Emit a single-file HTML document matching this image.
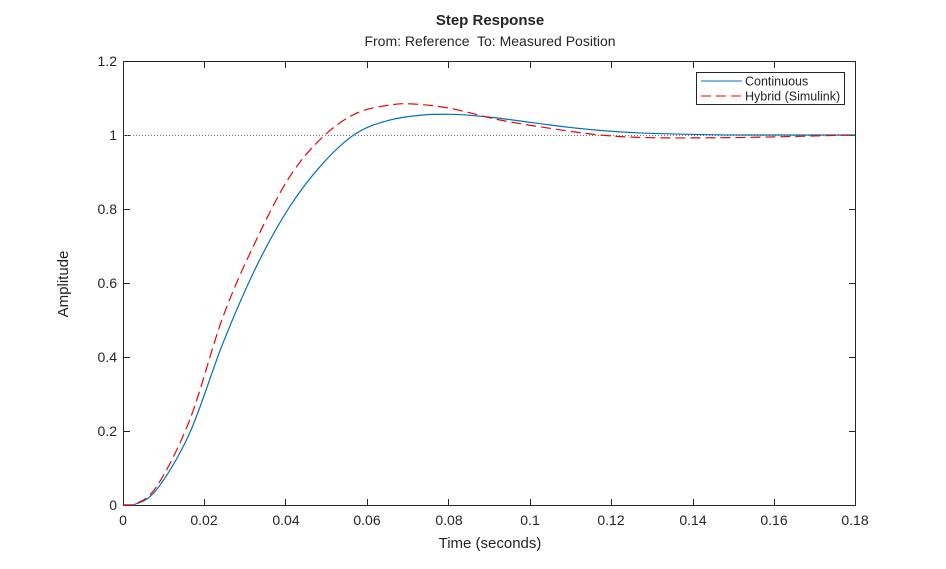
<!DOCTYPE html>
<html><head><style>body{margin:0;background:#fff}svg{display:block;font-family:"Liberation Sans",sans-serif}</style></head>
<body>
<svg width="946" height="569" viewBox="0 0 946 569" xmlns="http://www.w3.org/2000/svg">
<rect width="946" height="569" fill="#fff"/>
<text x="490" y="25" text-anchor="middle" font-size="15" font-weight="bold" fill="#262626">Step Response</text>
<text x="490" y="46" text-anchor="middle" font-size="14" fill="#262626" xml:space="preserve">From: Reference  To: Measured Position</text>
<g stroke="#262626" stroke-width="1">
<rect x="123.5" y="61.5" width="732" height="444" fill="none"/>
<path d="M204.5 505v-6M285.5 505v-6M367.5 505v-6M448.5 505v-6M530.5 505v-6M611.5 505v-6M693.5 505v-6M774.5 505v-6M204.5 62v6M285.5 62v6M367.5 62v6M448.5 62v6M530.5 62v6M611.5 62v6M693.5 62v6M774.5 62v6"/>
<path d="M124 431.5h6M124 357.5h6M124 283.5h6M124 209.5h6M124 135.5h6M855 431.5h-6M855 357.5h-6M855 283.5h-6M855 209.5h-6M855 135.5h-6"/>
</g>
<line x1="124" y1="135.5" x2="855" y2="135.5" stroke="#777" stroke-dasharray="1,2"/>
<g font-size="14" fill="#262626" text-anchor="middle">
<text x="123" y="525">0</text><text x="204" y="525">0.02</text><text x="286" y="525">0.04</text><text x="367" y="525">0.06</text><text x="449" y="525">0.08</text><text x="530" y="525">0.1</text><text x="611" y="525">0.12</text><text x="693" y="525">0.14</text><text x="774" y="525">0.16</text><text x="855" y="525">0.18</text>
</g>
<g font-size="14" fill="#262626" text-anchor="end">
<text x="117" y="510">0</text><text x="117" y="436">0.2</text><text x="117" y="362">0.4</text><text x="117" y="288">0.6</text><text x="117" y="214">0.8</text><text x="117" y="140">1</text><text x="117" y="66">1.2</text>
</g>
<text x="490" y="548" text-anchor="middle" font-size="15" fill="#262626">Time (seconds)</text>
<text transform="translate(68,284) rotate(-90)" text-anchor="middle" font-size="15" fill="#262626">Amplitude</text>
<path fill="none" stroke="#0072bd" stroke-width="1.2" d="M123,505 C124.7,505 127.5,505 133,505 C138.55,502.5 146.85,502 156.3,490 C165.75,478 178.6,457.5 189.7,433 C200.8,408.5 211.9,370.7 223,343 C234.1,315.3 245.2,289.4 256.3,266.7 C267.4,244 278.6,223.9 289.7,206.7 C300.8,189.5 311.9,175.5 323,163.3 C334.1,151.1 345.1,140.5 356.3,133.3 C367.5,126.1 378.9,123.05 390,120 C401.1,117 413,115.95 423,115 C432,114.2 441,114.2 450,114.3 C480,114.8 520,121 550,125 C580,129 610,132 650,133.3 C690,134.6 720,135 750,135 L855,135"/>
<path fill="none" stroke="#e00" stroke-width="1.2" stroke-dasharray="10,5" d="M123,505 C124.7,505 127.5,505 133,505 C138.55,502 146.85,501.2 156.3,487 C165.75,472.8 178.6,448.4 189.7,420 C200.8,391.6 211.9,346.7 223,316.7 C234.1,286.7 245.2,263.3 256.3,240 C267.4,216.7 278.6,193.9 289.7,176.7 C300.8,159.5 311.9,147.3 323,136.7 C334.1,126.1 345.1,118.6 356.3,113.3 C367.5,108 380.55,106.55 390,105 C399.45,103.45 403,103.45 413,104 C423,104.55 435.5,105.6 450,108.3 C464.5,111 483.3,116.7 500,120 C516.7,123.3 533.3,125.8 550,128.3 C566.7,130.8 583.3,133.4 600,135 C616.7,136.6 630.5,137.25 650,137.7 C670,138 695,138 717,137.7 C740,137.6 765,137.1 783,136.7 C805,136.2 835,135.4 855,135"/>
<rect x="696.5" y="72.5" width="148" height="32" fill="#fff" stroke="#262626"/>
<line x1="701" y1="81" x2="742" y2="81" stroke="#0072bd"/>
<line x1="701" y1="96" x2="742" y2="96" stroke="#e00" stroke-dasharray="10,5"/>
<text x="745" y="85.5" font-size="12.5" fill="#262626">Continuous</text>
<text x="745" y="100.5" font-size="12.5" fill="#262626">Hybrid (Simulink)</text>
</svg>
</body></html>
